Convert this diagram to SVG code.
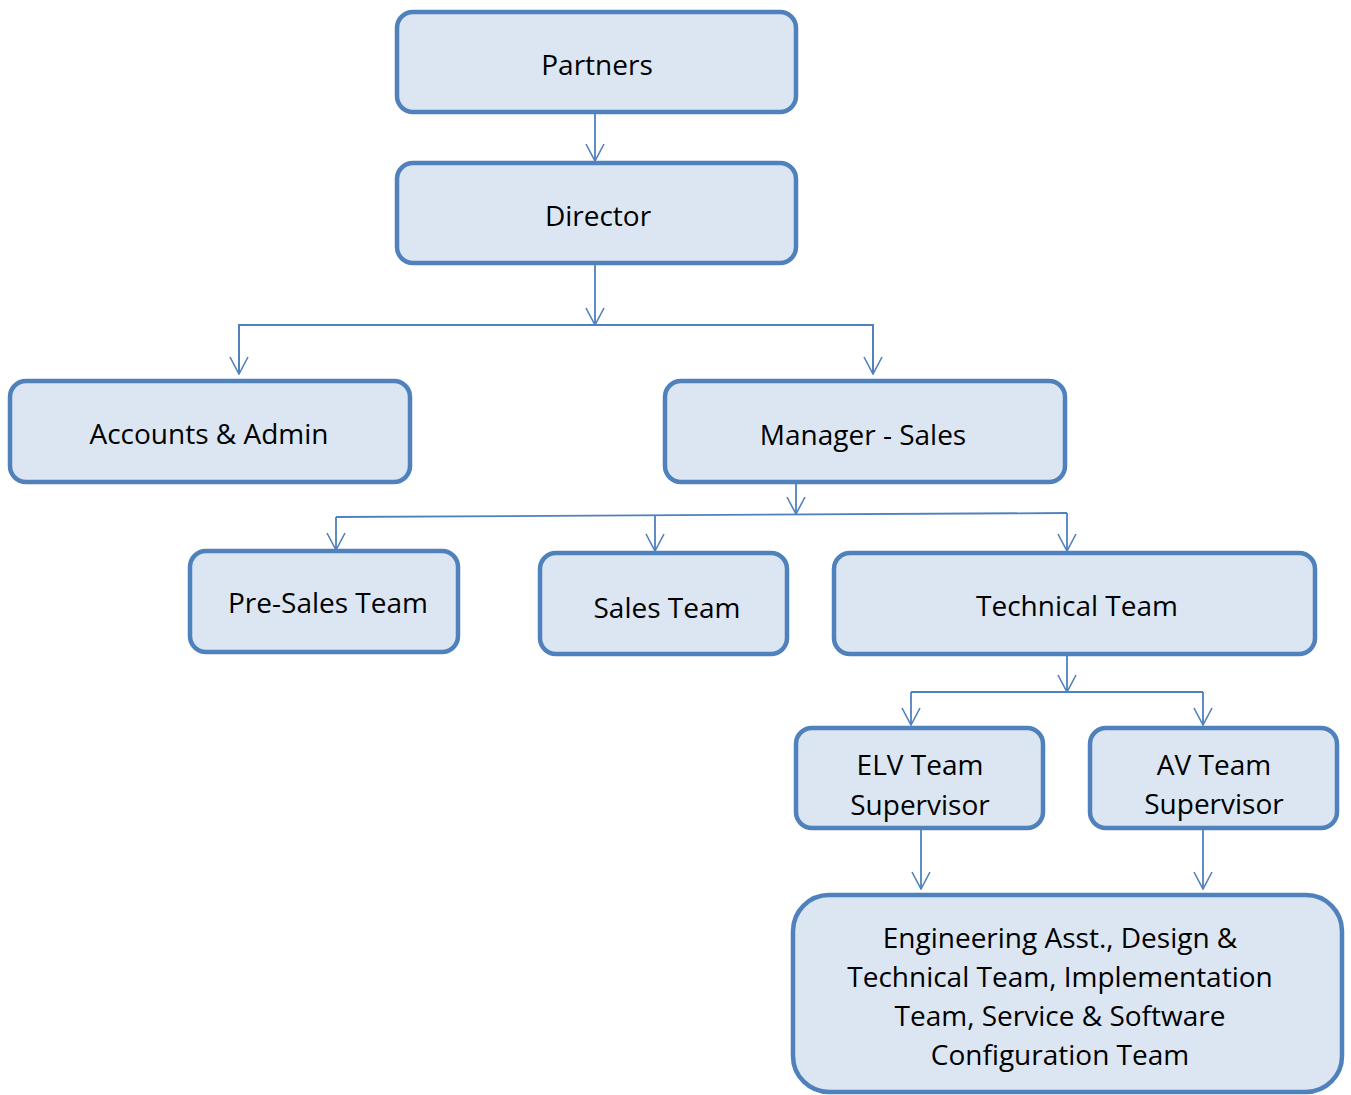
<svg xmlns="http://www.w3.org/2000/svg" width="1351" height="1095" viewBox="0 0 1351 1095">
<defs>
<marker id="arr" viewBox="0 0 20 20" refX="19" refY="10" markerWidth="20" markerHeight="20" markerUnits="userSpaceOnUse" orient="auto">
<path d="M2 1 L19 10 L2 19" fill="none" stroke="#4F81BD" stroke-width="1.6"/>
</marker>
<style>
.box{fill:#DCE6F2;stroke:#4F81BD;stroke-width:4.5}
.t{font-family:"Open Sans","Liberation Sans",sans-serif;font-size:28px;fill:#000;text-anchor:middle}
.c{fill:none;stroke:#4F81BD;stroke-width:1.8}
</style>
</defs>
<rect width="1351" height="1095" fill="#fff"/>
<g id="connectors">
<path class="c" d="M595 112 V161" marker-end="url(#arr)"/>
<path class="c" d="M595 263 V325" marker-end="url(#arr)"/>
<path class="c" d="M239 373 V325 H873 V373"/>
<path class="c" d="M239 325 V374" marker-end="url(#arr)"/>
<path class="c" d="M873 325 V374" marker-end="url(#arr)"/>
<path class="c" d="M796 482 V514" marker-end="url(#arr)"/>
<path class="c" d="M336 517 L1067 513"/>
<path class="c" d="M336 517 V550" marker-end="url(#arr)"/>
<path class="c" d="M655 515 V551" marker-end="url(#arr)"/>
<path class="c" d="M1067 513 V551" marker-end="url(#arr)"/>
<path class="c" d="M1067 655 V692" marker-end="url(#arr)"/>
<path class="c" d="M911 692 H1203"/>
<path class="c" d="M911 692 V725" marker-end="url(#arr)"/>
<path class="c" d="M1203 692 V725" marker-end="url(#arr)"/>
<path class="c" d="M921 829 V889" marker-end="url(#arr)"/>
<path class="c" d="M1203 829 V889" marker-end="url(#arr)"/>
</g>
<g id="partners"><rect class="box" x="397" y="12" width="399" height="100" rx="16"/><text class="t" x="597" y="75">Partners</text></g>
<g id="director"><rect class="box" x="397" y="163" width="399" height="100" rx="16"/><text class="t" x="598" y="226">Director</text></g>
<g id="accounts"><rect class="box" x="10" y="381" width="400" height="101" rx="16"/><text class="t" x="209" y="444">Accounts &amp; Admin</text></g>
<g id="manager"><rect class="box" x="665" y="381" width="400" height="101" rx="16"/><text class="t" x="863" y="445">Manager - Sales</text></g>
<g id="presales"><rect class="box" x="190" y="551" width="268" height="101" rx="16"/><text class="t" x="328" y="613">Pre-Sales Team</text></g>
<g id="sales"><rect class="box" x="540" y="553" width="247" height="101" rx="16"/><text class="t" x="667" y="618">Sales Team</text></g>
<g id="technical"><rect class="box" x="834" y="553" width="481" height="101" rx="16"/><text class="t" x="1077" y="616">Technical Team</text></g>
<g id="elv"><rect class="box" x="796" y="728" width="247" height="100" rx="16"/><text class="t" x="920" y="775">ELV Team</text><text class="t" x="920" y="815">Supervisor</text></g>
<g id="av"><rect class="box" x="1090" y="728" width="247" height="100" rx="16"/><text class="t" x="1214" y="775">AV Team</text><text class="t" x="1214" y="814">Supervisor</text></g>
<g id="engineering"><rect class="box" x="793" y="895" width="549" height="197" rx="36"/>
<text class="t" x="1060" y="948">Engineering Asst., Design &amp;</text>
<text class="t" x="1060" y="987">Technical Team, Implementation</text>
<text class="t" x="1060" y="1026">Team, Service &amp; Software</text>
<text class="t" x="1060" y="1065">Configuration Team</text></g>
</svg>
